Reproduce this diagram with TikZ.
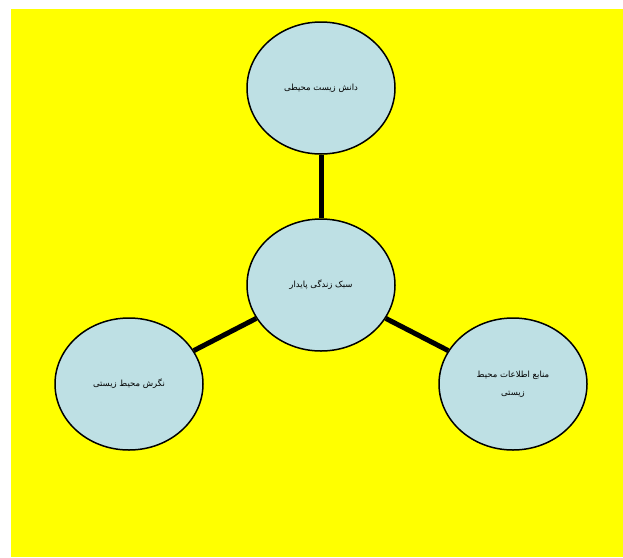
\documentclass[tikz,border=0pt]{standalone}
\usepackage{fontspec}
\newfontfamily\arabicfont[Script=Arabic]{DejaVu Sans}
\TeXXeTstate=1
\usetikzlibrary{shapes.geometric}
\definecolor{bubble}{RGB}{190,224,228}
\definecolor{backyellow}{RGB}{255,255,0}

\begin{document}
\begin{tikzpicture}[x=1pt,y=-1pt,
  idea/.style={ellipse,draw,line width=1.5pt,fill=bubble,minimum width=148pt,
    minimum height=132pt,inner sep=0pt,align=center,
    font=\arabicfont\fontsize{8.5}{18}\selectfont},
  link/.style={line width=5pt}]

\useasboundingbox (0,0) rectangle (623,557);
\fill[backyellow] (11,9) rectangle (623,557);

\node[idea] (life) at (321,285) {\beginR سبک زندگی پایدار\endR};
\node[idea] (know) at (321,88) {\beginR دانش زیست محیطی\endR};
\node[idea] (view) at (129,384) {\beginR نگرش محیط زیستی\endR};
\node[idea] (info) at (513,384) {\beginR منابع اطلاعات محیط\endR\\\beginR زیستی\endR};

%links
\draw[link] (life) -- (know);
\draw[link] (life) -- (view);
\draw[link] (life) -- (info);
\end{tikzpicture}
\end{document}
